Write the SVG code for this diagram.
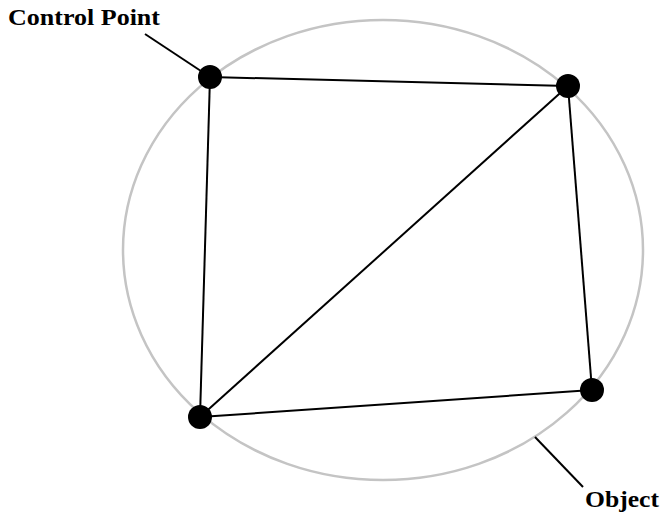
<svg xmlns="http://www.w3.org/2000/svg" width="662" height="515" viewBox="0 0 662 515">
<style>
.lbl{font-family:"Liberation Serif","Times New Roman",serif;font-weight:bold;font-size:23px;fill:#000}
.edge{stroke:#000;stroke-width:2;fill:none}
.pt{fill:#000}
</style>
<rect width="662" height="515" fill="#fff"/>
<g id="object">
<ellipse cx="383" cy="250" rx="260" ry="230" fill="none" stroke="#c4c4c4" stroke-width="2.5"/>
</g>
<g id="connectors">
<line class="edge" x1="210" y1="77" x2="568" y2="86"/>
<line class="edge" x1="568" y1="86" x2="592" y2="390"/>
<line class="edge" x1="592" y1="390" x2="200" y2="417"/>
<line class="edge" x1="200" y1="417" x2="210" y2="77"/>
<line class="edge" x1="200" y1="417" x2="568" y2="86"/>
<line class="edge" x1="145" y1="34" x2="210" y2="77"/>
<line class="edge" x1="535" y1="437" x2="583" y2="487"/>
</g>
<g id="p1"><circle class="pt" cx="210" cy="77" r="12"/></g>
<g id="p2"><circle class="pt" cx="568" cy="86" r="12"/></g>
<g id="p3"><circle class="pt" cx="592" cy="390" r="12"/></g>
<g id="p4"><circle class="pt" cx="200" cy="417" r="12"/></g>
<g id="label-control"><text class="lbl" x="8" y="25" textLength="152" lengthAdjust="spacingAndGlyphs">Control Point</text></g>
<g id="label-object"><text class="lbl" x="585" y="507" textLength="74" lengthAdjust="spacingAndGlyphs">Object</text></g>
</svg>
